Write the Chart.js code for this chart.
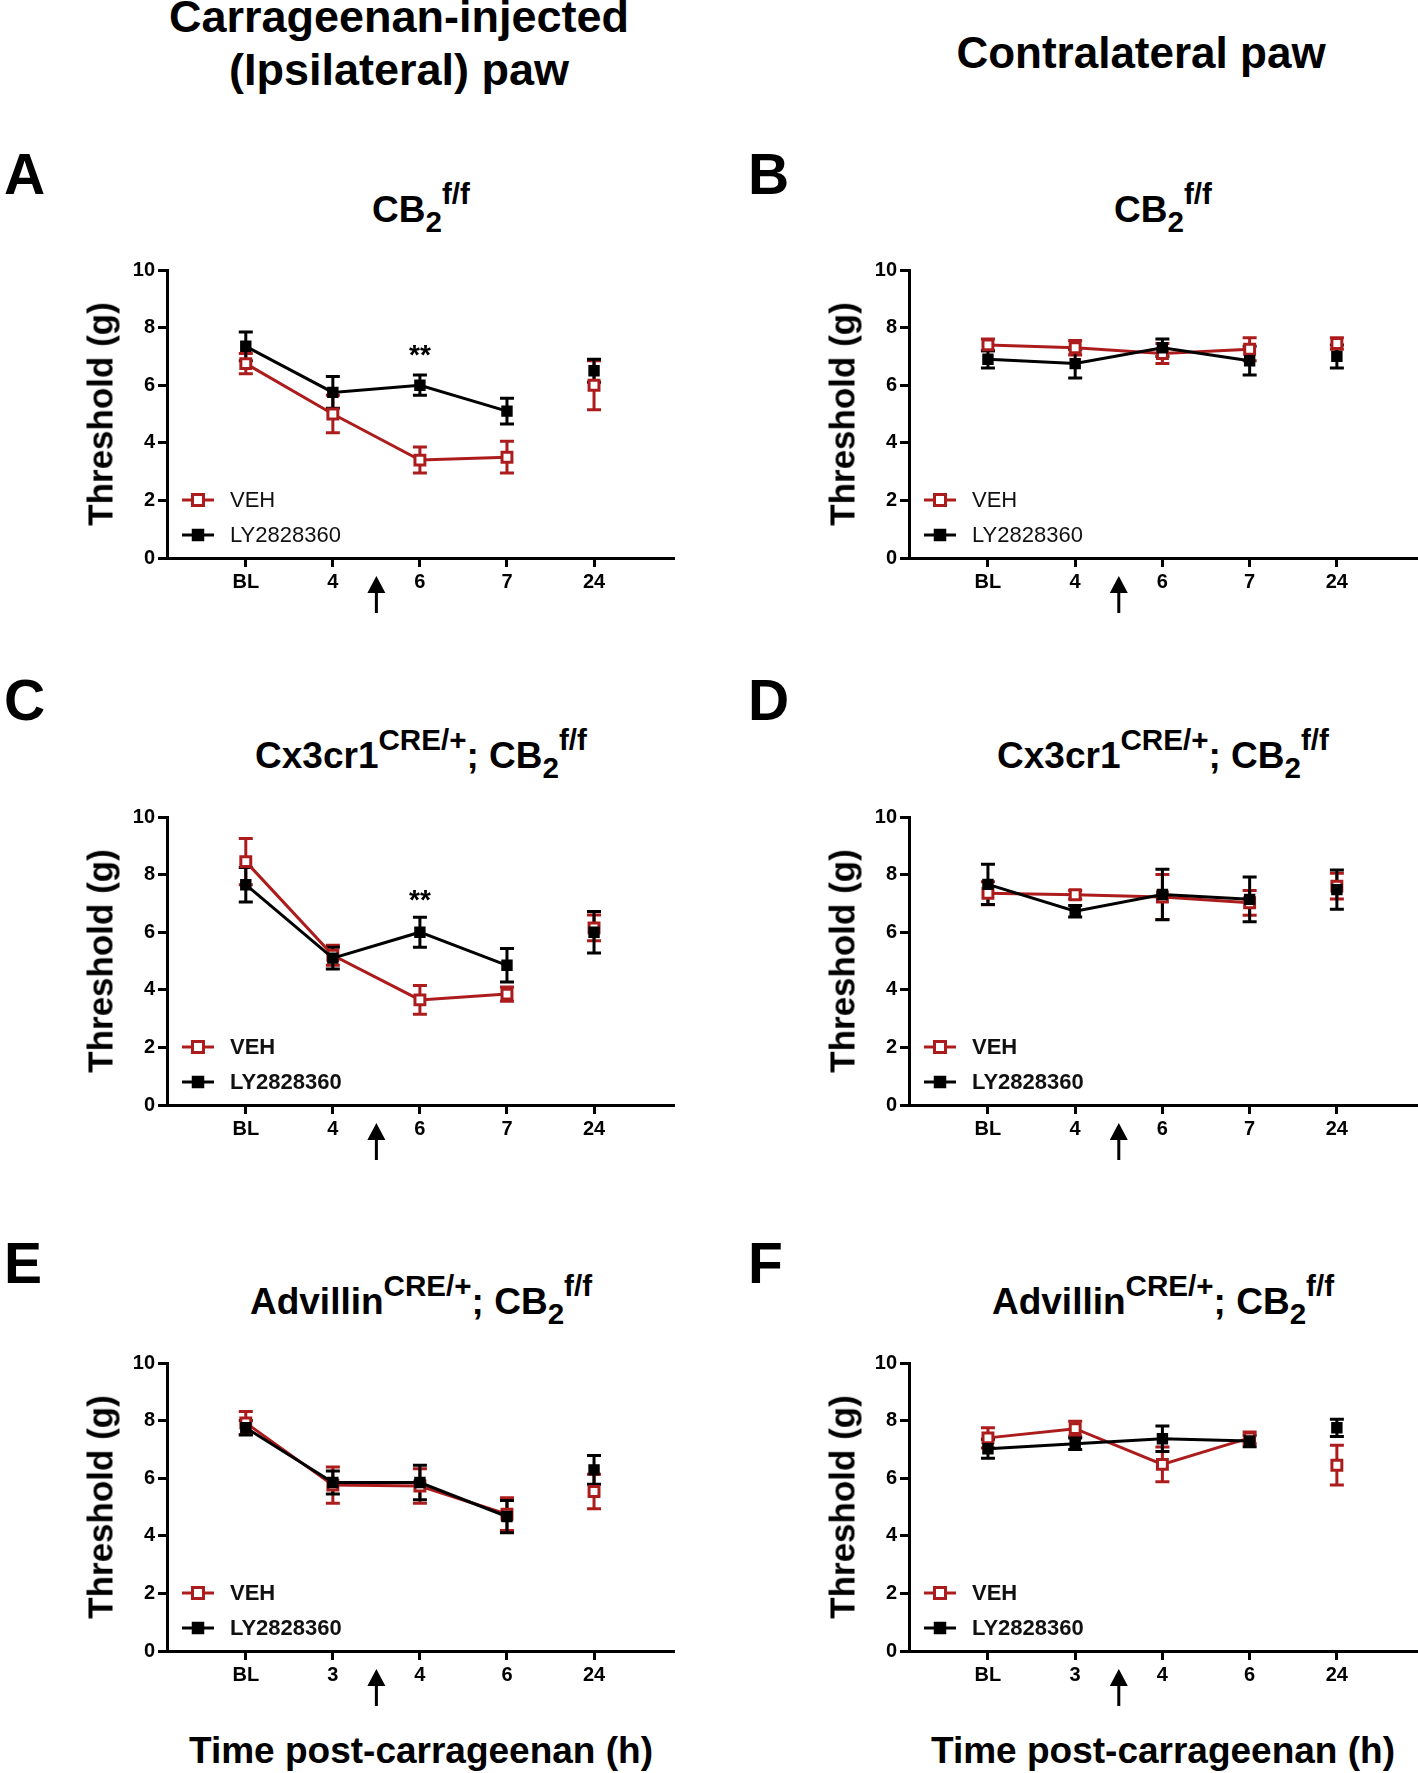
<!DOCTYPE html>
<html>
<head>
<meta charset="utf-8">
<script src="https://cdn.jsdelivr.net/npm/chart.js@4.4.1/dist/chart.umd.min.js"></script>
<style>
  body { margin:0; background:#fff; width:1418px; height:1773px; position:relative; overflow:hidden;
         font-family:'Liberation Sans', Arial, sans-serif; color:#000; }
  .t { position:absolute; white-space:nowrap; font-weight:bold; line-height:1; }
  .sb { font-size:0.8em; position:relative; top:0.34em; }
  .sp { font-size:0.8em; position:relative; top:-0.59em; }
  canvas { position:absolute; }
</style>
</head>
<body>
<script>
// ============================================================
// DATA
// ============================================================
const timesAD = ['BL','4','6','7','24'];
const timesEF = ['BL','3','4','6','24'];
const yTicks  = [0,2,4,6,8,10];
const arrowAt = 1.5;      // carrageenan / drug arrow, between 2nd and 3rd time point
const lastJoined = 3;     // 24 h point is not joined to the line

// A — CB2 f/f, ipsilateral
const vehA = [6.75, 5.0, 3.4, 3.5, 6.0],   vehAErr = [0.35, 0.65, 0.45, 0.55, 0.85];
const lyA  = [7.35, 5.75, 6.0, 5.1, 6.5],  lyAErr  = [0.5, 0.55, 0.35, 0.45, 0.4];
// B — CB2 f/f, contralateral
const vehB = [7.4, 7.3, 7.1, 7.25, 7.45],  vehBErr = [0.2, 0.25, 0.35, 0.4, 0.2];
const lyB  = [6.9, 6.75, 7.3, 6.85, 7.0],  lyBErr  = [0.3, 0.5, 0.3, 0.5, 0.4];
// C — Cx3cr1 CRE/+; CB2 f/f, ipsilateral
const vehC = [8.45, 5.2, 3.65, 3.85, 6.15], vehCErr = [0.8, 0.35, 0.5, 0.25, 0.45];
const lyC  = [7.65, 5.1, 6.0, 4.85, 6.0],   lyCErr  = [0.6, 0.38, 0.52, 0.58, 0.72];
// D — Cx3cr1 CRE/+; CB2 f/f, contralateral
const vehD = [7.35, 7.3, 7.22, 7.02, 7.6],  vehDErr = [0.4, 0.15, 0.78, 0.43, 0.45];
const lyD  = [7.66, 6.73, 7.31, 7.14, 7.48], lyDErr = [0.7, 0.2, 0.88, 0.78, 0.68];
// E — Advillin CRE/+; CB2 f/f, ipsilateral
const vehE = [7.92, 5.76, 5.73, 4.75, 5.54], vehEErr = [0.4, 0.63, 0.6, 0.57, 0.6];
const lyE  = [7.75, 5.85, 5.85, 4.67, 6.29], lyEErr  = [0.25, 0.4, 0.6, 0.56, 0.5];
// F — Advillin CRE/+; CB2 f/f, contralateral
const vehF = [7.4, 7.72, 6.48, 7.4, 6.45],  vehFErr = [0.35, 0.26, 0.6, 0.2, 0.69];
const lyF  = [7.02, 7.2, 7.37, 7.29, 7.75], lyFErr  = [0.33, 0.2, 0.44, 0.2, 0.3];

// significance marks: [time index, y value of mark centre]
const starsA = [[2, 7.25]];
const starsC = [[2, 7.33]];

const seriesNames = ['VEH', 'LY2828360'];

// ============================================================
// STYLE / LAYOUT
// ============================================================
const RED = '#ad1c1c';
const FONT = "'Liberation Sans', Arial, sans-serif";
Chart.defaults.font.family = FONT;

const PLOT_H = 289, YAXIS_W = 70, XAXIS_H = 62, PAD_TOP = 14;

const panels = [
  { times:timesAD, veh:vehA, vehErr:vehAErr, ly:lyA, lyErr:lyAErr, stars:starsA, bold:false, left:167, top:269, w:508 },
  { times:timesAD, veh:vehB, vehErr:vehBErr, ly:lyB, lyErr:lyBErr, stars:[],     bold:false, left:909, top:269, w:509 },
  { times:timesAD, veh:vehC, vehErr:vehCErr, ly:lyC, lyErr:lyCErr, stars:starsC, bold:true,  left:167, top:816, w:508 },
  { times:timesAD, veh:vehD, vehErr:vehDErr, ly:lyD, lyErr:lyDErr, stars:[],     bold:true,  left:909, top:816, w:509 },
  { times:timesEF, veh:vehE, vehErr:vehEErr, ly:lyE, lyErr:lyEErr, stars:[],     bold:true,  left:167, top:1362, w:508 },
  { times:timesEF, veh:vehF, vehErr:vehFErr, ly:lyF, lyErr:lyFErr, stars:[],     bold:true,  left:909, top:1362, w:509 },
];

// ============================================================
// PLUGINS
// ============================================================
const errorBars = {
  id:'errorBars',
  beforeDatasetsDraw(chart) {
    const { ctx, scales:{ y } } = chart;
    chart.data.datasets.forEach((ds, di) => {
      const meta = chart.getDatasetMeta(di);
      ctx.save();
      ctx.strokeStyle = ds.borderColor; ctx.lineWidth = 3; ctx.lineCap = 'butt';
      meta.data.forEach((pt, i) => {
        const v = ds.data[i].y, e = ds.errs[i];
        const t = y.getPixelForValue(v + e), b = y.getPixelForValue(v - e);
        ctx.beginPath();
        ctx.moveTo(pt.x, t); ctx.lineTo(pt.x, b);
        ctx.moveTo(pt.x - 7, t); ctx.lineTo(pt.x + 7, t);
        ctx.moveTo(pt.x - 7, b); ctx.lineTo(pt.x + 7, b);
        ctx.stroke();
      });
      ctx.restore();
    });
  }
};

const extras = {
  id:'extras',
  afterDraw(chart, args, opts) {
    const { ctx, chartArea:ca, scales:{ x, y } } = chart;
    ctx.save();
    // significance stars
    ctx.fillStyle = '#000'; ctx.textAlign = 'center'; ctx.textBaseline = 'alphabetic';
    ctx.font = 'bold 28px ' + FONT;
    opts.stars.forEach(([i, v]) => ctx.fillText('**', x.getPixelForValue(i), y.getPixelForValue(v) + 15));

    // arrow under the x axis
    const ax = x.getPixelForValue(arrowAt), aTop = ca.bottom + 18, aBot = ca.bottom + 55;
    ctx.strokeStyle = '#000'; ctx.lineWidth = 3;
    ctx.beginPath(); ctx.moveTo(ax, aTop + 10); ctx.lineTo(ax, aBot); ctx.stroke();
    ctx.beginPath(); ctx.moveTo(ax, aTop); ctx.lineTo(ax - 9, aTop + 17); ctx.lineTo(ax + 9, aTop + 17); ctx.closePath(); ctx.fill();

    // legend inside plot, bottom-left
    [[0, ca.bottom - 58], [1, ca.bottom - 23]].forEach(([di, yy]) => {
      const ds = chart.data.datasets[di];
      ctx.strokeStyle = ds.borderColor; ctx.lineWidth = 3;
      ctx.beginPath(); ctx.moveTo(ca.left + 15, yy); ctx.lineTo(ca.left + 47, yy); ctx.stroke();
      ctx.fillStyle = ds.pointBackgroundColor; ctx.fillRect(ca.left + 25.5, yy - 5.5, 11, 11);
      ctx.strokeStyle = ds.pointBorderColor; ctx.lineWidth = ds.pointBorderWidth;
      ctx.strokeRect(ca.left + 25.5, yy - 5.5, 11, 11);
      ctx.fillStyle = '#111'; ctx.textAlign = 'left'; ctx.textBaseline = 'middle';
      ctx.font = (opts.bold ? 'bold ' : '') + '22px ' + FONT;
      ctx.fillText(seriesNames[di], ca.left + 63, yy + 1);
    });
    ctx.restore();
  }
};

// ============================================================
// CHARTS
// ============================================================
function axisStyle() {
  return {
    grid:{ drawOnChartArea:false, tickLength:9, tickWidth:3, tickColor:'#000' },
    border:{ color:'#000', width:3 },
  };
}

function buildPanel(p) {
  const cv = document.createElement('canvas');
  cv.width = YAXIS_W + p.w; cv.height = PAD_TOP + PLOT_H + XAXIS_H;
  cv.style.left = (p.left - YAXIS_W) + 'px'; cv.style.top = (p.top - PAD_TOP) + 'px';
  document.body.appendChild(cv);

  const pts = arr => arr.map((v, i) => ({ x:i, y:v }));
  const cut = c => c.p1DataIndex > lastJoined ? 'rgba(0,0,0,0)' : undefined;

  new Chart(cv.getContext('2d'), {
    type:'line',
    data:{ datasets:[
      { label:seriesNames[0], data:pts(p.veh), errs:p.vehErr, borderColor:RED, borderWidth:3,
        pointStyle:'rect', pointRadius:7, pointBorderWidth:3, pointBackgroundColor:'#fff', pointBorderColor:RED,
        segment:{ borderColor:cut }, order:2 },
      { label:seriesNames[1], data:pts(p.ly), errs:p.lyErr, borderColor:'#000', borderWidth:3,
        pointStyle:'rect', pointRadius:7, pointBorderWidth:1.5, pointBackgroundColor:'#000', pointBorderColor:'#000',
        segment:{ borderColor:cut }, order:1 },
    ]},
    options:{
      responsive:false, animation:false, events:[],
      layout:{ autoPadding:false, padding:{ top:PAD_TOP, left:0, right:0, bottom:0 } },
      plugins:{ legend:{ display:false }, tooltip:{ enabled:false }, extras:{ stars:p.stars, bold:p.bold } },
      scales:{
        x:{ type:'linear', min:-0.905, max:4.93, ...axisStyle(),
            afterBuildTicks:s => { s.ticks = p.times.map((_, i) => ({ value:i })); },
            afterFit:s => { s.height = XAXIS_H; },
            ticks:{ callback:v => p.times[v], color:'#000', font:{ size:20, weight:'bold' }, padding:3, autoSkip:false, maxRotation:0 } },
        y:{ min:0, max:10, ...axisStyle(),
            afterBuildTicks:s => { s.ticks = yTicks.map(v => ({ value:v })); },
            afterFit:s => { s.width = YAXIS_W; },
            ticks:{ color:'#000', font:{ size:20, weight:'bold' }, padding:3 } },
      },
    },
    plugins:[errorBars, extras],
  });
}

panels.forEach(buildPanel);

// ============================================================
// TEXT (titles, panel letters, axis titles)
// ============================================================
function txt(html, x, base, size, center = true) {
  const d = document.createElement('div');
  d.className = 't'; d.innerHTML = html; d.style.fontSize = size + 'px';
  d.style.top = (base - 0.8465 * size) + 'px'; d.style.left = x + 'px';
  if (center) d.style.transform = 'translateX(-50%)';
  document.body.appendChild(d);
}
function ytitle(cx, cy) {
  const d = document.createElement('div');
  d.className = 't'; d.textContent = 'Threshold (g)'; d.style.fontSize = '35px';
  d.style.left = cx + 'px'; d.style.top = cy + 'px';
  d.style.transform = 'translate(-50%,-50%) rotate(-90deg)';
  document.body.appendChild(d);
}

const cb2 = 'CB<span class="sb">2</span><span class="sp">f/f</span>';
const titles = [cb2, 'Cx3cr1<span class="sp">CRE/+</span>; ' + cb2, 'Advillin<span class="sp">CRE/+</span>; ' + cb2];
const letters = [['A','B'], ['C','D'], ['E','F']];
const titleBase = [222, 768, 1314];
const letterBase = [194, 720, 1283];

txt('Carrageenan-injected', 399, 32, 45);
txt('(Ipsilateral) paw', 399, 85, 45);
txt('Contralateral paw', 1141, 68, 44);

titles.forEach((t, r) => {
  txt(t, 421, titleBase[r], 37);
  txt(t, 1163, titleBase[r], 37);
  txt(letters[r][0], 4, letterBase[r], 57, false);
  txt(letters[r][1], 748, letterBase[r], 57, false);
  const mid = panels[r * 2].top + PLOT_H / 2;
  ytitle(100, mid);
  ytitle(842, mid);
});

txt('Time post-carrageenan (h)', 421, 1763, 37);
txt('Time post-carrageenan (h)', 1163, 1763, 37);
</script>
</body>
</html>
